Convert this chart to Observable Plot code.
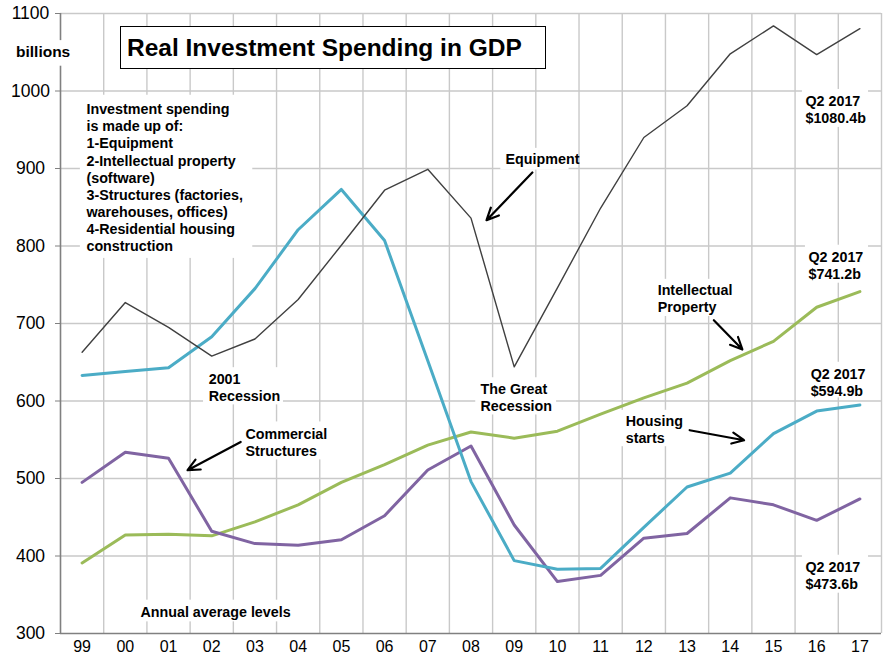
<!DOCTYPE html>
<html><head><meta charset="utf-8">
<script src="https://cdn.jsdelivr.net/npm/d3@7"></script>
<script src="https://cdn.jsdelivr.net/npm/@observablehq/plot@0.6"></script>
<style>
body{margin:0;background:#fff;font-family:"Liberation Sans",Arial,sans-serif}
#wrap{position:relative;width:890px;height:656px}
#title{position:absolute;left:120px;top:26px;width:418px;height:41px;border:1.5px solid #000;background:#fff;font-weight:bold;font-size:24.5px;line-height:42px;padding-left:6px;color:#000;white-space:nowrap}
</style></head><body>
<div id="wrap"><div id="title">Real Investment Spending in GDP</div></div>
<script>
const years = [1999,2000,2001,2002,2003,2004,2005,2006,2007,2008,2009,2010,2011,2012,2013,2014,2015,2016,2017];
const equipment = [663,727,695,658,680,731,801,872,899,836,644,746,849,940,981,1048,1084,1047,1080.4];
const housing = [633,638,643,683,745,821,873,807,652,496,394,383,384,437,489,507,558,587,594.9];
const structures = [495,534,526,432,416,414,421,452,511,542,440,367,375,423,429,475,466,446,473.6];
const intellectual = [391,427,428,426,444,466,495,518,543,560,552,561,583,604,623,652,677,721,741.2];
const yTicks = [300,400,500,600,700,800,900,1000,1100];

const blockText = "Investment spending\nis made up of:\n1-Equipment\n2-Intellectual property\n(software)\n3-Structures (factories,\nwarehouses, offices)\n4-Residential housing\nconstruction";
const notes = [
  {text:"Equipment", x:2008.80, y:913},
  {text:"The Great\nRecession", x:2008.22, y:605.5},
  {text:"2001\nRecession", x:2001.93, y:618.5},
  {text:"Commercial\nStructures", x:2002.78, y:547.5},
  {text:"Intellectual\nProperty", x:2012.32, y:733},
  {text:"Housing\nstarts", x:2011.58, y:564.3},
  {text:"Q2 2017\n$1080.4b", x:2015.74, y:977},
  {text:"Q2 2017\n$741.2b", x:2015.81, y:776},
  {text:"Q2 2017\n$594.9b", x:2015.86, y:624},
  {text:"Q2 2017\n$473.6b", x:2015.74, y:376},
  {text:"Annual average levels", x:2000.35, y:329}
];
// white label backgrounds (text boxes)
const boxes = [
  {x1:1998.96, x2:2002.95, y1:994.5, y2:784},
  {x1:1997.40, x2:1998.92, y1:1065, y2:1032},
  {x1:2008.69, x2:2010.27, y1:926, y2:898},
  {x1:2008.11, x2:2009.98, y1:630, y2:582},
  {x1:2001.81, x2:2003.66, y1:643, y2:595},
  {x1:2002.67, x2:2004.75, y1:573, y2:524},
  {x1:2012.20, x2:2014.12, y1:757, y2:709},
  {x1:2011.46, x2:2013.20, y1:588, y2:541},
  {x1:2015.67, x2:2017.20, y1:1002, y2:953},
  {x1:2015.74, x2:2017.20, y1:801, y2:752},
  {x1:2015.79, x2:2017.20, y1:650, y2:604},
  {x1:2015.67, x2:2017.20, y1:401, y2:352},
  {x1:2000.24, x2:2003.99, y1:343, y2:315}
];
const arrows = [
  {x1:2009.42, y1:894.8, x2:2008.36, y2:833.3},
  {x1:2002.67, y1:547.2, x2:2001.44, y2:510.7},
  {x1:2013.62, y1:704.3, x2:2014.28, y2:666.5},
  {x1:2013.06, y1:562.3, x2:2014.32, y2:549.4}
];

const rows = arr => years.map((yr,i)=>({year:yr, v:arr[i]}));
const bounds = years.map(y=>y+0.5);

const chart = Plot.plot({
  width:890, height:656,
  marginLeft:60, marginRight:9, marginTop:13, marginBottom:23,
  style:{fontFamily:"'Liberation Sans', Arial, sans-serif", background:"#fff", overflow:"visible"},
  x:{domain:[1998.5,2017.5]},
  y:{domain:[300,1100]},
  marks:[
    Plot.ruleX(bounds, {stroke:"#c9c9c9", strokeWidth:1.4}),
    Plot.ruleY(yTicks.filter(v=>v>300), {stroke:"#c9c9c9", strokeWidth:1.4}),
    Plot.ruleX([1998.5], {stroke:"#808080", strokeWidth:1.6}),
    Plot.ruleY([300], {stroke:"#808080", strokeWidth:1.6}),
    Plot.axisY({ticks:yTicks, tickFormat:d=>String(d), tickSize:5, tickPadding:25, textAnchor:"middle", fontSize:17.5, stroke:"#808080", fill:"#000", label:null}),
    Plot.axisX({ticks:years, tickFormat:d=>String(d%100).padStart(2,"0"), tickSize:0, tickPadding:7, fontSize:16, fill:"#000", label:null}),
    Plot.rect(boxes, {x1:"x1", x2:"x2", y1:"y1", y2:"y2", fill:"#fff"}),
    Plot.line(rows(intellectual), {x:"year", y:"v", stroke:"#9bbb59", strokeWidth:3}),
    Plot.line(rows(structures), {x:"year", y:"v", stroke:"#8064a2", strokeWidth:3}),
    Plot.line(rows(housing), {x:"year", y:"v", stroke:"#4bacc6", strokeWidth:3}),
    Plot.line(rows(equipment), {x:"year", y:"v", stroke:"#404040", strokeWidth:1.4}),
    Plot.text([blockText], {x:()=>1999.1, y:()=>986, text:d=>d, textAnchor:"start", lineAnchor:"top", fontWeight:"bold", fontSize:14.3, lineHeight:1.2, fill:"#000"}),
    Plot.text(notes, {x:"x", y:"y", text:"text", textAnchor:"start", lineAnchor:"middle", fontWeight:"bold", fontSize:14.3, lineHeight:1.2, fill:"#000"}),
    Plot.text(["billions"], {x:()=>1997.47, y:()=>1050, text:d=>d, textAnchor:"start", lineAnchor:"middle", fontWeight:"bold", fontSize:15.5, fill:"#000"}),
    Plot.arrow(arrows, {x1:"x1", y1:"y1", x2:"x2", y2:"y2", stroke:"#000", strokeWidth:2.2, headLength:9, headAngle:50})
  ]
});
const wrap = document.getElementById("wrap");
wrap.insertBefore(chart, document.getElementById("title"));
</script>
</body></html>
